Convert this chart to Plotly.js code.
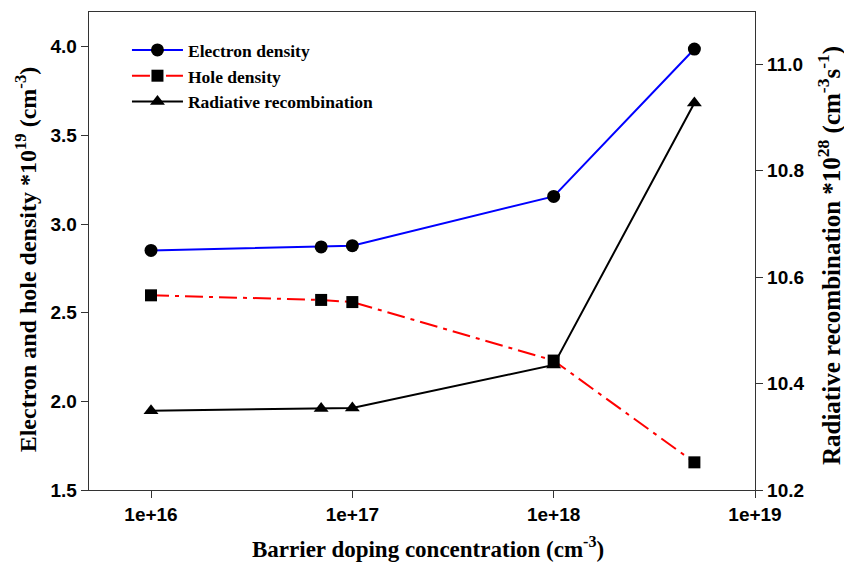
<!DOCTYPE html>
<html>
<head>
<meta charset="utf-8">
<script src="https://cdn.plot.ly/plotly-3.0.1.min.js"></script>
<style>html,body{margin:0;padding:0;background:#fff;}#chart{width:844px;height:562px;}</style>
</head>
<body>
<div id="chart"></div>
<script>
const dopingConc = [1e16, 7e16, 1e17, 1e18, 5e18];
const electronDensity = [2.851, 2.871, 2.878, 3.156, 3.987];
const holeDensity = [2.598, 2.572, 2.560, 2.230, 1.656];
const radiativeRecomb = [10.349, 10.353, 10.354, 10.435, 10.927];
const xTickVals = [1e16, 1e17, 1e18, 1e19];
const xTickText = ['1e+16', '1e+17', '1e+18', '1e+19'];
const leftTicks = [1.5, 2.0, 2.5, 3.0, 3.5, 4.0];
const rightTicks = [10.2, 10.4, 10.6, 10.8, 11.0];
const xTitle = 'Barrier doping concentration (cm<sup>-3</sup>)';
const leftTitle = 'Electron and hole density *10<sup>19</sup> (cm<sup>-3</sup>)';
const rightTitle = 'Radiative recombination *10<sup>28</sup> (cm<sup>-3</sup>s<sup>-1</sup>)';

const serif = 'Liberation Serif, Times New Roman, serif';
const sans = 'Liberation Sans, Arial, sans-serif';

const traces = [
  {
    x: dopingConc, y: radiativeRecomb, yaxis: 'y', name: 'Radiative recombination',
    mode: 'lines+markers', legendrank: 3,
    line: {color: '#000000', width: 2},
    marker: {symbol: 'triangle-up', size: 13, color: '#000000'}
  },
  {
    x: dopingConc, y: electronDensity, yaxis: 'y2', name: 'Electron density',
    mode: 'lines+markers', legendrank: 1,
    line: {color: '#0000ff', width: 2},
    marker: {symbol: 'circle', size: 13, color: '#000000'}
  },
  {
    x: dopingConc, y: holeDensity, yaxis: 'y2', name: 'Hole density',
    mode: 'lines+markers', legendrank: 2,
    line: {color: '#ff0000', width: 2, dash: '18px,6px,4px,6px'},
    marker: {symbol: 'square', size: 12, color: '#000000'}
  }
];

const tickFont = {family: sans, size: 19, color: '#000', weight: 'bold'};

const layout = {
  width: 844, height: 562,
  margin: {l: 89, r: 89, t: 12, b: 72},
  paper_bgcolor: '#ffffff', plot_bgcolor: '#ffffff',
  showlegend: true,
  legend: {
    x: 0.057, y: 0.958, xanchor: 'left', yanchor: 'top',
    bgcolor: 'rgba(0,0,0,0)', itemwidth: 51, tracegroupgap: 0,
    font: {family: serif, size: 17.5, color: '#000', weight: 'bold'}
  },
  xaxis: {
    type: 'log', range: [15.692, 19],
    tickvals: xTickVals, ticktext: xTickText,
    ticks: 'outside', ticklen: 7, tickwidth: 1, tickcolor: '#333',
    showline: true, linecolor: '#333', linewidth: 1.3, mirror: true,
    showgrid: false, zeroline: false,
    tickfont: tickFont
  },
  yaxis: {
    side: 'right', range: [10.2, 11.098],
    tickvals: rightTicks, tickformat: '.1f',
    ticks: 'outside', ticklen: 7, tickwidth: 1, tickcolor: '#333',
    showline: true, linecolor: '#333', linewidth: 1.3,
    showgrid: false, zeroline: false,
    tickfont: tickFont
  },
  yaxis2: {
    overlaying: 'y', side: 'left', range: [1.5, 4.196],
    tickvals: leftTicks, tickformat: '.1f',
    ticks: 'outside', ticklen: 7, tickwidth: 1, tickcolor: '#333',
    showline: true, linecolor: '#333', linewidth: 1.3,
    showgrid: false, zeroline: false,
    tickfont: tickFont
  },
  annotations: [
    {text: xTitle, xref: 'paper', yref: 'paper', x: 0.509, y: -0.121,
     xanchor: 'center', yanchor: 'middle', showarrow: false,
     font: {family: serif, size: 23, color: '#000', weight: 'bold'}},
    {text: leftTitle, xref: 'paper', yref: 'paper', x: -0.095, y: 0.482,
     xanchor: 'center', yanchor: 'middle', showarrow: false, textangle: -90,
     font: {family: serif, size: 24, color: '#000', weight: 'bold'}},
    {text: rightTitle, xref: 'paper', yref: 'paper', x: 1.113, y: 0.49,
     xanchor: 'center', yanchor: 'middle', showarrow: false, textangle: -90,
     font: {family: serif, size: 25, color: '#000', weight: 'bold'}}
  ]
};

Plotly.newPlot('chart', traces, layout, {displayModeBar: false, staticPlot: true});
</script>
</body>
</html>
